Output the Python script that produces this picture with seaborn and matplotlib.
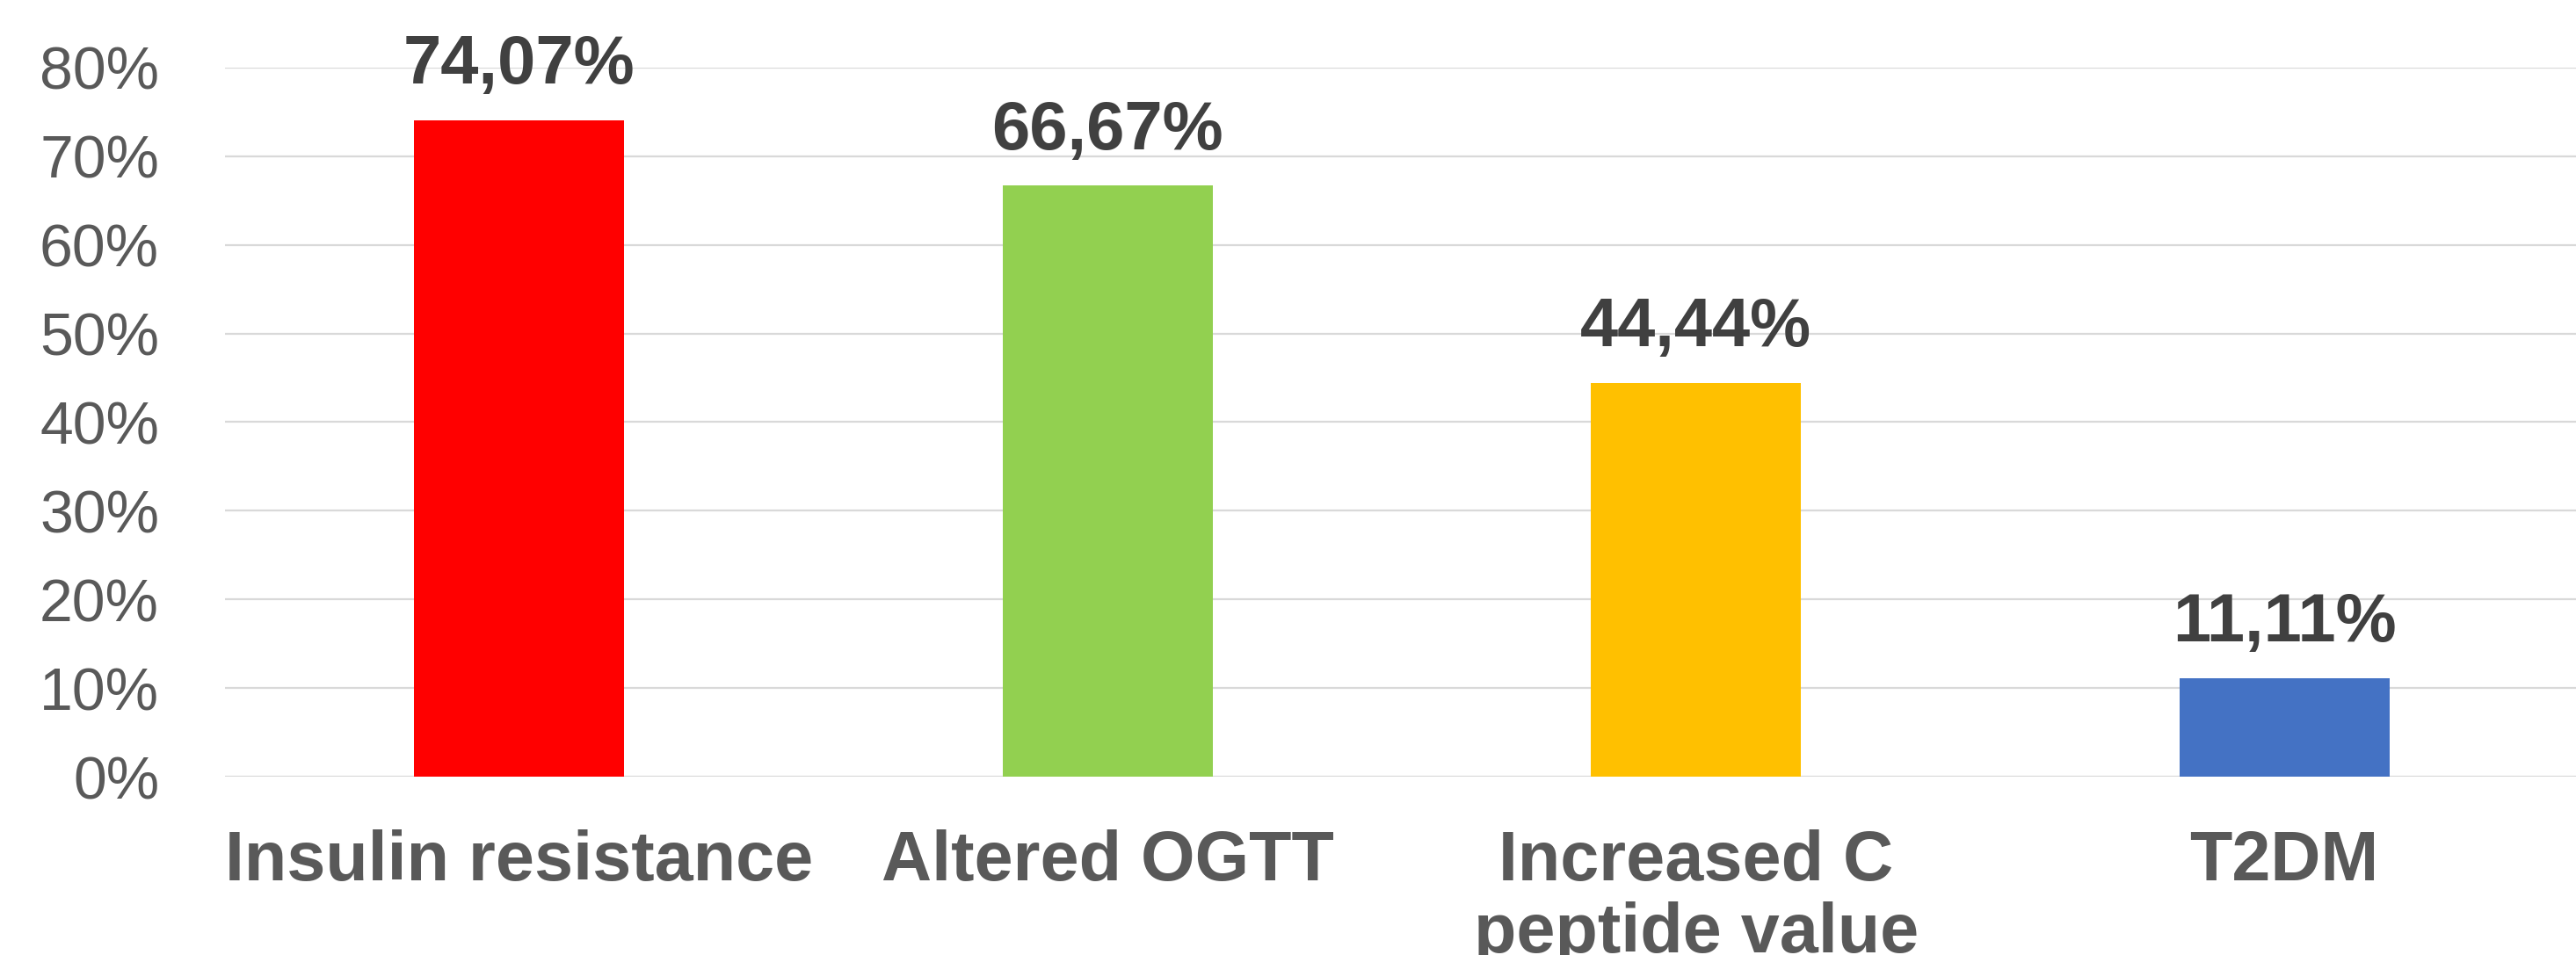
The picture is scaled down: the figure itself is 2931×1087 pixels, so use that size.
import matplotlib
matplotlib.use("Agg")
import matplotlib.pyplot as plt
import seaborn as sns
import pandas as pd
from matplotlib.ticker import PercentFormatter

categories = ["Insulin resistance", "Altered OGTT", "Increased C\npeptide value", "T2DM"]
values = [0.7407, 0.6667, 0.4444, 0.1111]
value_labels = ["74,07%", "66,67%", "44,44%", "11,11%"]
bar_colors = ["#FF0000", "#92D050", "#FFC000", "#4472C4"]
y_ticks = [0.0, 0.1, 0.2, 0.3, 0.4, 0.5, 0.6, 0.7, 0.8]

sns.set_theme(style="white")
plt.rcParams['font.family'] = ['Liberation Sans', 'DejaVu Sans']

df = pd.DataFrame({"category": categories, "value": values})

fig = plt.figure(figsize=(29.31, 10.87), dpi=100)
ax = fig.add_axes([256/2931, (1087-884)/1087, 1 - 256/2931 + 0.001, (884-77)/1087])

sns.barplot(data=df, x="category", y="value", hue="category",
            palette=bar_colors, order=categories, hue_order=categories,
            legend=False, width=0.357, saturation=1, ax=ax, edgecolor="none")

ax.set_ylim(0, 0.8)
ax.set_yticks(y_ticks)
ax.yaxis.set_major_formatter(PercentFormatter(1.0, decimals=0))
ax.set_xlim(-0.5, len(categories) - 0.5)
ax.set_axisbelow(True)
ax.yaxis.grid(True, color="#D9D9D9", linewidth=1.6)
ax.xaxis.grid(False)
for s in ax.spines.values():
    s.set_visible(False)

ax.tick_params(axis="y", length=0, pad=54, labelsize=49, labelcolor="#595959")
ax.tick_params(axis="x", length=0, pad=43, labelsize=57, labelcolor="#595959")
for lbl in ax.get_xticklabels():
    lbl.set_fontweight("bold")
    lbl.set_linespacing(1.12)
ax.set_xlabel("")
ax.set_ylabel("")

for i, (v, t) in enumerate(zip(values, value_labels)):
    ax.annotate(t, xy=(i, v), xytext=(0, 30), textcoords="offset points",
                ha="center", va="baseline", fontsize=56, fontweight="bold",
                color="#404040", clip_on=False, annotation_clip=False, zorder=5)

fig.savefig("out.png", dpi=100, facecolor="white")
